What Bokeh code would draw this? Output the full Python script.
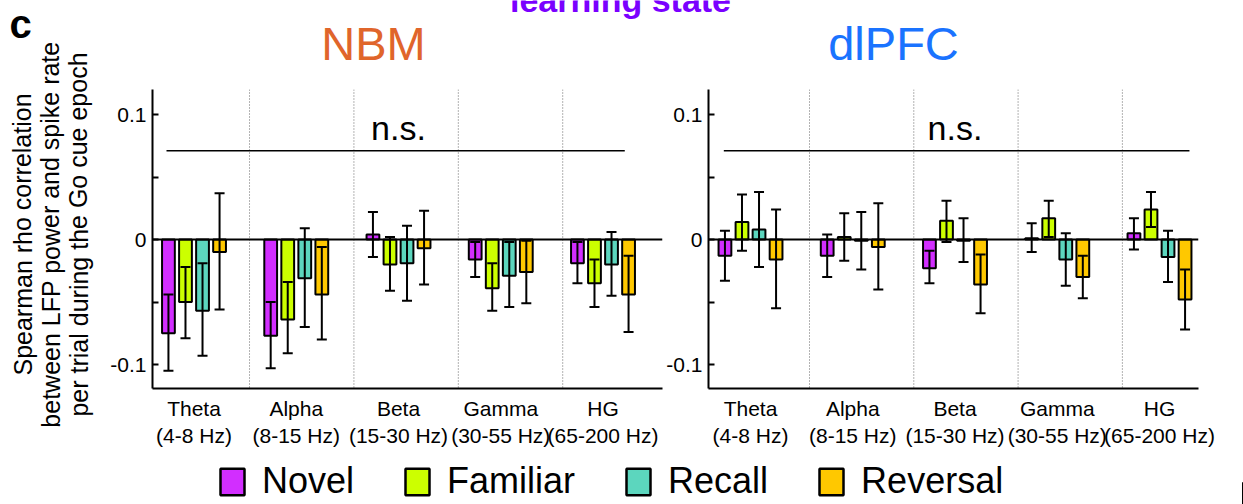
from bokeh.plotting import figure
from bokeh.models import (Range1d, FixedTicker, Span, Whisker, TeeHead, ColumnDataSource,
                          Label, Legend, LegendItem)
from bokeh.layouts import column, row
from bokeh.embed import file_html
from bokeh.resources import INLINE

# ---------------- data ----------------
bands = ["Theta", "Alpha", "Beta", "Gamma", "HG"]
band_ranges = ["(4-8 Hz)", "(8-15 Hz)", "(15-30 Hz)", "(30-55 Hz)", "(65-200 Hz)"]
conditions = ["Novel", "Familiar", "Recall", "Reversal"]
colors = ["#D22EFF", "#CCFF00", "#5CD6BE", "#FFC800"]

# NBM: mean rho and error-bar ends (lower, upper) per band
nbm_novel = [-0.075, -0.077, 0.004, -0.016, -0.019]
nbm_familiar = [-0.050, -0.064, -0.020, -0.039, -0.035]
nbm_recall = [-0.057, -0.031, -0.019, -0.029, -0.020]
nbm_reversal = [-0.010, -0.044, -0.007, -0.026, -0.044]
nbm_novel_lo = [-0.105, -0.103, -0.014, -0.030, -0.035]
nbm_novel_hi = [-0.044, -0.050, 0.022, -0.002, -0.002]
nbm_familiar_lo = [-0.079, -0.091, -0.041, -0.057, -0.054]
nbm_familiar_hi = [-0.022, -0.034, 0.002, -0.019, -0.016]
nbm_recall_lo = [-0.093, -0.070, -0.049, -0.054, -0.045]
nbm_recall_hi = [-0.019, 0.009, 0.011, -0.002, 0.006]
nbm_reversal_lo = [-0.056, -0.080, -0.036, -0.051, -0.074]
nbm_reversal_hi = [0.037, -0.006, 0.023, -0.001, -0.013]

# dlPFC
pfc_novel = [-0.013, -0.013, -0.023, 0.001, 0.005]
pfc_familiar = [0.014, 0.002, 0.015, 0.017, 0.024]
pfc_recall = [0.008, -0.001, -0.001, -0.016, -0.014]
pfc_reversal = [-0.016, -0.006, -0.036, -0.030, -0.048]
pfc_novel_lo = [-0.033, -0.030, -0.035, -0.010, -0.008]
pfc_novel_hi = [0.007, 0.004, -0.009, 0.013, 0.017]
pfc_familiar_lo = [-0.009, -0.017, -0.002, 0.002, 0.010]
pfc_familiar_hi = [0.036, 0.021, 0.031, 0.031, 0.038]
pfc_recall_lo = [-0.022, -0.024, -0.018, -0.037, -0.034]
pfc_recall_hi = [0.038, 0.022, 0.017, 0.005, 0.007]
pfc_reversal_lo = [-0.055, -0.040, -0.059, -0.047, -0.072]
pfc_reversal_hi = [0.024, 0.029, -0.012, -0.013, -0.024]

y_ticks = [-0.1, -0.05, 0, 0.05, 0.1]
y_tick_labels = ["-0.1", "", "0", "", "0.1"]
y_title_lines = ["Spearman rho correlation", "between LFP power and spike rate",
                 "per trial during the Go cue epoch"]

FONT = "Liberation Sans"
offsets = [-0.25, -0.0833, 0.0833, 0.25]
BAR_W = 0.125
PANEL_H = 386
TOP_H = 75
LEG_H = 504 - TOP_H - PANEL_H


def bare(width, height, x_end, y_end):
    f = figure(width=width, height=height, x_range=Range1d(0, x_end), y_range=Range1d(0, y_end),
               output_backend="svg", toolbar_location=None, x_axis_location=None,
               y_axis_location=None, min_border=0)
    f.outline_line_color = None
    f.grid.grid_line_color = None
    return f


def make_panel(width, border_left, border_right, x_start, x_end, series,
               sep_start, sep_step, ns_x0, ns_x1):
    p = figure(width=width, height=PANEL_H, x_range=Range1d(x_start, x_end),
               y_range=Range1d(-0.1192, 0.12), output_backend="svg", toolbar_location=None,
               min_border_left=border_left, min_border_right=border_right,
               min_border_top=14, min_border_bottom=73)
    p.outline_line_color = None
    p.grid.grid_line_color = None

    for k in range(4):
        p.add_layout(Span(location=sep_start + sep_step * k, dimension="height",
                          line_color="#666666", line_width=1, line_dash="1 2", level="underlay"))
    p.add_layout(Span(location=0, dimension="width", line_color="black", line_width=2))

    for (vals, lo, hi), off, col in zip(series, offsets, colors):
        src = ColumnDataSource(dict(x=[i + off for i in range(len(bands))], top=vals, lo=lo, hi=hi))
        p.vbar(x="x", top="top", bottom=0, width=BAR_W, source=src, fill_color=col,
               line_color="black", line_width=2)
        p.add_layout(Whisker(source=src, base="x", lower="lo", upper="hi", line_color="black",
                             line_width=2, level="annotation",
                             upper_head=TeeHead(size=10, line_width=2, line_color="black"),
                             lower_head=TeeHead(size=10, line_width=2, line_color="black")))

    # n.s. bracket
    p.segment(x0=[ns_x0], x1=[ns_x1], y0=[0.071], y1=[0.071], line_color="black", line_width=1.5)
    p.add_layout(Label(x=2.0, y=0.0896, text="n.s.", text_align="center", text_baseline="middle",
                       text_font=FONT, text_font_size="34px", text_color="black"))

    # axes
    p.xaxis.ticker = FixedTicker(ticks=list(range(len(bands))))
    p.xaxis.major_label_overrides = {i: f"{b}\n{r}" for i, (b, r) in enumerate(zip(bands, band_ranges))}
    p.xaxis.major_tick_line_color = None
    p.xaxis.major_tick_in = 0
    p.xaxis.major_tick_out = 0
    p.xaxis.minor_tick_line_color = None
    p.xaxis.minor_tick_in = 0
    p.xaxis.minor_tick_out = 0
    p.xaxis.axis_line_width = 2
    p.xaxis.axis_line_color = "black"
    p.xaxis.major_label_text_font = FONT
    p.xaxis.major_label_text_font_size = "21px"
    p.xaxis.major_label_text_line_height = 1.2
    p.xaxis.major_label_text_color = "black"
    p.xaxis.major_label_standoff = 8

    p.yaxis.ticker = FixedTicker(ticks=y_ticks)
    p.yaxis.major_label_overrides = {t: l for t, l in zip(y_ticks, y_tick_labels)}
    p.yaxis.major_tick_in = 6
    p.yaxis.major_tick_out = 0
    p.yaxis.major_tick_line_width = 2
    p.yaxis.minor_tick_line_color = None
    p.yaxis.axis_line_width = 2
    p.yaxis.axis_line_color = "black"
    p.yaxis.major_label_text_font = FONT
    p.yaxis.major_label_text_font_size = "21px"
    p.yaxis.major_label_text_color = "black"
    p.yaxis.major_label_standoff = 6
    return p


nbm_series = [(nbm_novel, nbm_novel_lo, nbm_novel_hi),
              (nbm_familiar, nbm_familiar_lo, nbm_familiar_hi),
              (nbm_recall, nbm_recall_lo, nbm_recall_hi),
              (nbm_reversal, nbm_reversal_lo, nbm_reversal_hi)]
pfc_series = [(pfc_novel, pfc_novel_lo, pfc_novel_hi),
              (pfc_familiar, pfc_familiar_lo, pfc_familiar_hi),
              (pfc_recall, pfc_recall_lo, pfc_recall_hi),
              (pfc_reversal, pfc_reversal_lo, pfc_reversal_hi)]

p1 = make_panel(563, 52, 1, -0.4059, 4.5819, nbm_series, 0.543, 1.021, -0.269, 4.213)
p2 = make_panel(580, 45, 45, -0.4108, 4.3814, pfc_series, 0.577, 1.020, -0.261, 4.293)

# left strip: panel letter and the three-line y-axis title
LEFT_H = TOP_H + PANEL_H
left = bare(100, LEFT_H, 100, LEFT_H)
left.add_layout(Label(x=20, y=LEFT_H - 23, text="c", text_align="center", text_baseline="middle",
                      text_font=FONT, text_font_size="40px", text_font_style="bold",
                      text_color="black"))
for k, t in enumerate(y_title_lines):
    left.add_layout(Label(x=22 + 28 * k, y=LEFT_H - 234, text=t, angle=1.5708, text_align="center",
                          text_baseline="middle", text_font=FONT, text_font_size="25px",
                          text_color="black"))

# top strip: section title (cut by the page edge) and panel titles
top = bare(1143, TOP_H, 1143, TOP_H)
top.add_layout(Label(x=520, y=76, text="learning state", text_align="center",
                     text_baseline="alphabetic", text_font=FONT, text_font_size="34px",
                     text_font_style="bold", text_color="#7A00FF"))
top.add_layout(Label(x=273, y=32, text="NBM", text_align="center", text_baseline="middle",
                     text_font=FONT, text_font_size="47px", text_color="#E0652B"))
top.add_layout(Label(x=793, y=32, text="dlPFC", text_align="center", text_baseline="middle",
                     text_font=FONT, text_font_size="47px", text_color="#1A73FF"))

# legend strip
leg = bare(1243, LEG_H, 1, 1)
items = []
for name, col in zip(conditions, colors):
    r = leg.vbar(x=[5], top=[0.5], width=0.1, fill_color=col, line_color="black", line_width=2.5)
    items.append(LegendItem(label=name, renderers=[r]))
legend = Legend(items=items, orientation="horizontal", location=(217, 2), glyph_width=30,
                glyph_height=33, label_text_font=FONT, label_text_font_size="36px",
                label_text_color="black", label_standoff=15, spacing=48, padding=0, margin=0,
                border_line_color=None, background_fill_alpha=0, label_height=33)
leg.add_layout(legend)

layout = column(row(left, column(top, row(p1, p2))), leg)
open("out.html", "w").write(file_html(layout, INLINE))
